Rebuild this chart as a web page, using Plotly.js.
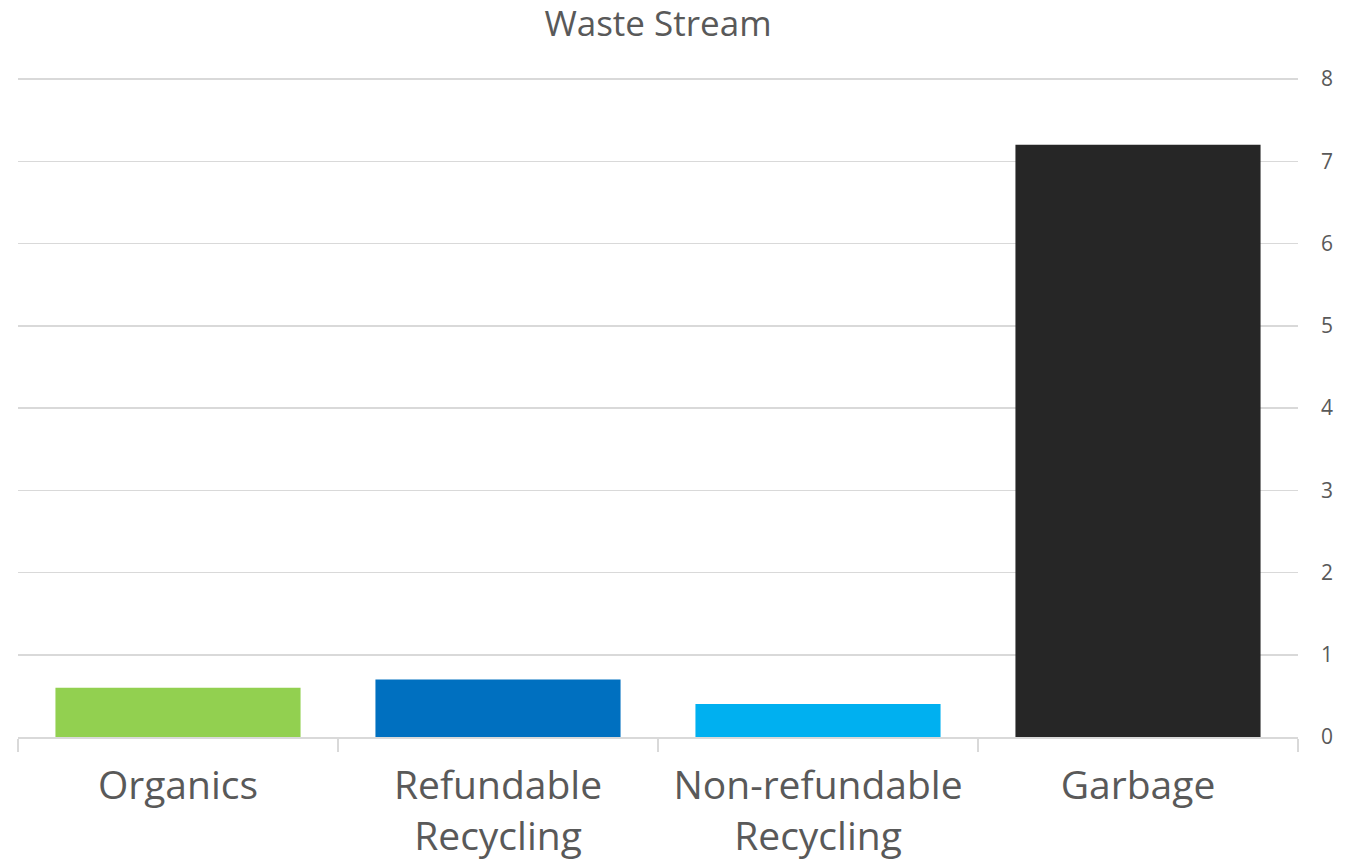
<!DOCTYPE html>
<html>
<head>
<meta charset="utf-8">
<script src="https://cdn.plot.ly/plotly-3.0.1.min.js"></script>
<style>
html,body{margin:0;padding:0;background:#fff;}
#chart{width:1353px;height:864px;}
</style>
</head>
<body>
<div id="chart"></div>
<script>
var categories = ["Organics", "Refundable<br>Recycling", "Non-refundable<br>Recycling", "Garbage"];
var values = [0.6, 0.7, 0.4, 7.2];
var barColors = ["#92d050", "#0070c0", "#00b0f0", "#262626"];
var yTicks = [0, 1, 2, 3, 4, 5, 6, 7, 8];

var trace = {
  type: "bar",
  x: categories,
  y: values,
  marker: {color: barColors},
  width: 0.766,
  hoverinfo: "none"
};

var layout = {
  width: 1353,
  height: 864,
  margin: {l: 18, r: 55, t: 77, b: 127},
  paper_bgcolor: "#ffffff",
  plot_bgcolor: "#ffffff",
  font: {family: "Open Sans, sans-serif", color: "#595959"},
  showlegend: false,
  title: {
    text: "Waste Stream",
    font: {size: 35, color: "#595959"},
    x: 0.5, xref: "paper", xanchor: "center",
    y: 0.972, yref: "container", yanchor: "middle"
  },
  bargap: 0.234,
  xaxis: {
    type: "category",
    tickson: "boundaries",
    ticks: "outside",
    ticklen: 13,
    tickcolor: "#d9d9d9",
    tickwidth: 1.5,
    showline: true,
    linecolor: "#d9d9d9",
    linewidth: 1.5,
    showgrid: false,
    ticklabelstandoff: 14,
    tickfont: {size: 39, color: "#595959"},
    fixedrange: true
  },
  yaxis: {
    side: "right",
    range: [0, 8.025],
    tickvals: yTicks,
    showgrid: true,
    gridcolor: "#d9d9d9",
    gridwidth: 1.5,
    zeroline: false,
    showline: false,
    ticks: "",
    ticklabelstandoff: 22,
    tickfont: {size: 21, color: "#595959"},
    fixedrange: true
  }
};

Plotly.newPlot("chart", [trace], layout, {displayModeBar: false, staticPlot: true});
</script>
</body>
</html>
